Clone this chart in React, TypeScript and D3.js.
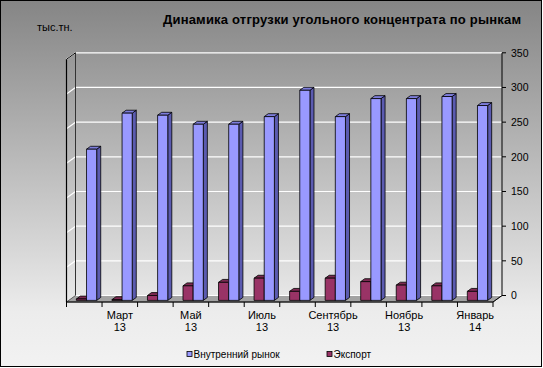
import React from "react";
import * as d3 from "d3";

const months = ["Февраль", "Март", "Апрель", "Май", "Июнь", "Июль", "Август", "Сентябрь", "Октябрь", "Ноябрь", "Декабрь", "Январь"];
const years = ["13", "13", "13", "13", "13", "13", "13", "13", "13", "13", "13", "14"];
const domestic = [218, 270, 267, 254, 254, 265, 303, 265, 291, 291, 294, 281];
const exportVals = [2, 1, 7, 21, 26, 32, 13, 32, 27, 22, 21, 13];
const valueTicks = [0, 50, 100, 150, 200, 250, 300, 350];
const seriesNames = ["Внутренний рынок", "Экспорт"];

const W = 543;
const H = 368;
const FONT = "'Liberation Sans', Arial, sans-serif";
const DX = 9;
const DY = -6.5;
const D0 = 0.25;
const D1 = 0.7;

const blue = { front: "#9999ff", side: "#5b5bb0", top: "#7d7ddc" };
const maroon = { front: "#993366", side: "#66223f", top: "#7c2a52" };

export default function App() {
  const x = d3.scaleBand<number>().domain(d3.range(months.length)).range([66.5, 493]).paddingInner(0);
  const y = d3.scaleLinear().domain([0, 350]).range([302, 302 - 242.7]);
  const band = x.bandwidth();
  const bw = band / 3.5;

  const bar = (x0: number, v: number, c: { front: string; side: string; top: string }, key: string) => {
    const yt = y(v);
    const yb = y(0);
    const fx0 = x0 + DX * D0;
    const fx1 = x0 + bw + DX * D0;
    const bx0 = x0 + DX * D1;
    const bx1 = x0 + bw + DX * D1;
    const ft = yt + DY * D0;
    const fb = yb + DY * D0;
    const bt = yt + DY * D1;
    const bb = yb + DY * D1;
    return (
      <g key={key} stroke="#000" strokeWidth={0.8} strokeLinejoin="round">
        <polygon points={`${fx1},${ft} ${bx1},${bt} ${bx1},${bb} ${fx1},${fb}`} fill={c.side} />
        <polygon points={`${fx0},${ft} ${fx1},${ft} ${bx1},${bt} ${bx0},${bt}`} fill={c.top} />
        <rect x={fx0} y={ft} width={bw} height={fb - ft} fill={c.front} />
      </g>
    );
  };

  const left = 66.5;
  const right = 493;

  return (
    <svg width={W} height={H} style={{ position: "absolute", left: 0, top: 0 }}>
      <defs>
        <linearGradient id="bg" x1="0" y1="0" x2="0" y2="1">
          <stop offset="0" stopColor="#858585" />
          <stop offset="0.85" stopColor="#ececec" />
          <stop offset="1" stopColor="#f2f2f2" />
        </linearGradient>
      </defs>
      <rect x={0.5} y={0.5} width={541} height={366} fill="url(#bg)" stroke="#000" strokeWidth={1} />

      <text x={163} y={24.3} fontFamily={FONT} fontSize={13} fontWeight="bold" fill="#000" textLength={358} lengthAdjust="spacing">
        Динамика отгрузки угольного концентрата по рынкам
      </text>
      <text x={37} y={31} fontFamily={FONT} fontSize={11} fill="#000">тыс.тн.</text>

      {/* floor */}
      <polygon points={`${left},${y(0)} ${right},${y(0)} ${right + DX},${y(0) + DY} ${left + DX},${y(0) + DY}`} fill="#a3a3a3" stroke="#444" strokeWidth={0.8} />

      {/* back wall gridlines */}
      {valueTicks.map((t) => (
        <g key={t}>
          <line x1={left + DX} x2={right + DX} y1={y(t) + DY} y2={y(t) + DY} stroke="#fff" strokeWidth={1.2} />
          {t > 0 && <line x1={left} y1={y(t)} x2={left + DX} y2={y(t) + DY} stroke="#fff" strokeWidth={1.2} />}
        </g>
      ))}

      {/* left wall */}
      <line x1={left} x2={left} y1={y(350)} y2={y(0)} stroke="#000" strokeWidth={1.2} />
      <line x1={left + DX} x2={left + DX} y1={y(350) + DY} y2={y(0) + DY} stroke="#333" strokeWidth={1} />
      <line x1={left} y1={y(350)} x2={left + DX} y2={y(350) + DY} stroke="#000" strokeWidth={1} />

      {/* right value axis */}
      <line x1={right + DX} x2={right + DX} y1={y(350) + DY} y2={y(0) + DY} stroke="#000" strokeWidth={1} />
      <line x1={right} y1={y(0)} x2={right + DX} y2={y(0) + DY} stroke="#000" strokeWidth={1} />
      {valueTicks.map((t) => (
        <g key={"vt" + t}>
          <line x1={right + DX} x2={right + DX + 4} y1={y(t) + DY} y2={y(t) + DY} stroke="#000" strokeWidth={1} />
          <text x={511} y={y(t) + DY} dy="0.36em" fontFamily={FONT} fontSize={10.5} fill="#000">{t}</text>
        </g>
      ))}

      {/* bars */}
      {months.map((m, i) => {
        const x0 = x(i)!;
        return (
          <g key={m}>
            {bar(x0 + 0.75 * bw, exportVals[i], maroon, "e" + i)}
            {bar(x0 + 1.75 * bw, domestic[i], blue, "d" + i)}
          </g>
        );
      })}

      {/* category axis */}
      <line x1={left} x2={right} y1={y(0)} y2={y(0)} stroke="#000" strokeWidth={1} />
      {d3.range(months.length + 1).map((i) => {
        const xx = left + i * band;
        return <line key={"ct" + i} x1={xx} x2={xx} y1={y(0)} y2={y(0) + 5} stroke="#000" strokeWidth={1} />;
      })}
      {months.map((m, i) =>
        i % 2 === 1 ? (
          <text key={"cl" + i} x={x(i)! + band / 2} textAnchor="middle" fontFamily={FONT} fontSize={11} fill="#000">
            <tspan x={x(i)! + band / 2} y={318.5}>{m}</tspan>
            <tspan x={x(i)! + band / 2} y={331}>{years[i]}</tspan>
          </text>
        ) : null
      )}

      {/* legend */}
      <rect x={187} y={351.5} width={5} height={5} fill={blue.front} stroke="#000" strokeWidth={0.8} />
      <text x={193.5} y={357.5} fontFamily={FONT} fontSize={10} fill="#000">{seriesNames[0]}</text>
      <rect x={327} y={351.5} width={5} height={5} fill={maroon.front} stroke="#000" strokeWidth={0.8} />
      <text x={333.5} y={357.5} fontFamily={FONT} fontSize={10} fill="#000">{seriesNames[1]}</text>
    </svg>
  );
}
